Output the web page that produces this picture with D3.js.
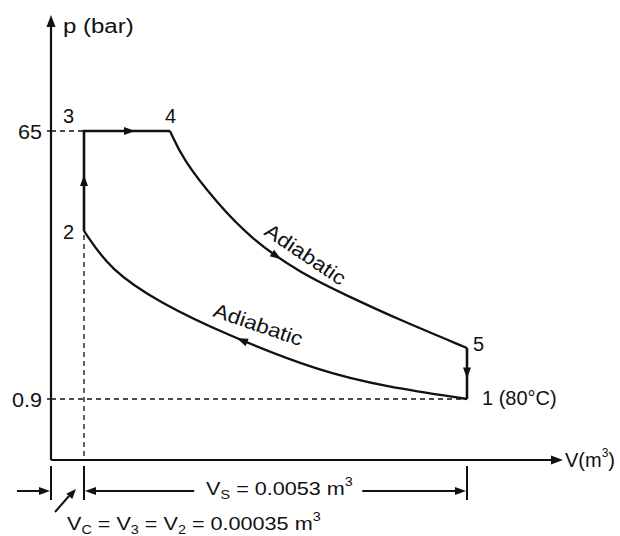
<!DOCTYPE html>
<html>
<head>
<meta charset="utf-8">
<script src="https://cdn.jsdelivr.net/npm/d3@7"></script>
<style>
  body { margin: 0; background: #fff; }
  text { font-family: "Liberation Sans", Arial, Helvetica, sans-serif; fill: #111; }
</style>
</head>
<body>
<div id="chart"></div>
<script>
// cycle data (V in m^3, p in bar)
const stateNames = ["1", "2", "3", "4", "5"];
const stateV = [0.00565, 0.00035, 0.00035, 0.00154, 0.00565];
const stateP = [0.9, 41.1, 65, 65, 13.1];

// adiabatic expansion 4 -> 5
const expansionV = [0.00154, 0.00172, 0.00219, 0.00265, 0.00334, 0.00403, 0.00472, 0.00565];
const expansionP = [65, 58.1, 47.8, 39.4, 31.0, 25.3, 19.8, 13.1];

// adiabatic compression 1 -> 2
const compressionV = [0.00565, 0.00454, 0.00362, 0.00233, 0.00140, 0.00071, 0.00035];
const compressionP = [0.9, 3.8, 7.4, 16.2, 23.9, 31.8, 41.1];

const pTicks = [65, 0.9];
const pTickLabels = ["65", "0.9"];

// layout
const width = 620, height = 536;
const originX = 51, originY = 460, axisTop = 15, axisRight = 563;

const svg = d3.select("#chart").append("svg")
  .attr("width", width)
  .attr("height", height);

const x = d3.scaleLinear().domain([stateV[1], stateV[0]]).range([84, 467]);
const y = d3.scaleLinear().domain([0.9, 65]).range([399, 131]);

const pts = stateNames.map((n, i) => ({name: n, V: stateV[i], p: stateP[i]}));
const S = {};
pts.forEach(d => { S[d.name] = d; });

// the lettering in the original is drawn a little wide
function widen(sel, k) {
  sel.each(function() {
    const w = this.getComputedTextLength();
    d3.select(this).attr("textLength", w * k).attr("lengthAdjust", "spacingAndGlyphs");
  });
  return sel;
}

function arrowHead(px, py, angle, len = 11, wid = 8) {
  svg.append("path")
    .attr("d", `M0,0 L${-len},${-wid / 2} L${-len},${wid / 2} Z`)
    .attr("transform", `translate(${px},${py}) rotate(${angle})`)
    .attr("fill", "#111");
}

// dashed guide lines
const dash = svg.append("g")
  .attr("stroke", "#111")
  .attr("stroke-width", 1.3)
  .attr("stroke-dasharray", "5,4")
  .attr("fill", "none");
dash.append("line")
  .attr("x1", originX).attr("x2", x(S["3"].V))
  .attr("y1", y(S["3"].p)).attr("y2", y(S["3"].p));
dash.append("line")
  .attr("x1", originX).attr("x2", x(S["1"].V))
  .attr("y1", y(S["1"].p)).attr("y2", y(S["1"].p));
dash.append("line")
  .attr("x1", x(S["2"].V)).attr("x2", x(S["2"].V))
  .attr("y1", y(S["2"].p) + 4).attr("y2", originY);

// axes
const axes = svg.append("g").attr("stroke", "#111").attr("stroke-width", 2.2);
axes.append("line").attr("x1", originX).attr("x2", originX).attr("y1", originY).attr("y2", axisTop + 6);
axes.append("line").attr("x1", originX).attr("x2", axisRight - 6).attr("y1", originY).attr("y2", originY);
arrowHead(originX, axisTop, -90, 12, 9);
arrowHead(axisRight, originY, 0, 12, 9);

// y ticks
pTicks.forEach((p, i) => {
  svg.append("line")
    .attr("x1", originX - 4).attr("x2", originX)
    .attr("y1", y(p)).attr("y2", y(p))
    .attr("stroke", "#111").attr("stroke-width", 1.5);
  widen(svg.append("text")
    .attr("x", originX - 9)
    .attr("y", y(p) + 8)
    .attr("text-anchor", "end")
    .attr("font-size", 20)
    .text(pTickLabels[i]), 1.08);
});

// axis titles
widen(svg.append("text")
  .attr("x", originX + 12).attr("y", 33)
  .attr("font-size", 20)
  .text("p (bar)"), 1.2);

const vt = svg.append("text")
  .attr("x", axisRight + 2).attr("y", originY + 7)
  .attr("font-size", 20);
vt.append("tspan").text("V(m");
vt.append("tspan").attr("font-size", 12).attr("dy", -10).text("3");
vt.append("tspan").attr("dy", 10).text(")");

// cycle
const line = d3.line().x(d => x(d[0])).y(d => y(d[1]));
const curved = d3.line().x(d => x(d[0])).y(d => y(d[1])).curve(d3.curveBasis);

const cyc = svg.append("g").attr("fill", "none").attr("stroke", "#111").attr("stroke-linejoin", "miter");

// 2 -> 3 -> 4
cyc.append("path")
  .attr("stroke-width", 2.6)
  .attr("d", line([[S["2"].V, S["2"].p], [S["3"].V, S["3"].p], [S["4"].V, S["4"].p]]));
// 5 -> 1
cyc.append("path")
  .attr("stroke-width", 2.6)
  .attr("d", line([[S["5"].V, S["5"].p], [S["1"].V, S["1"].p]]));

const expansion = cyc.append("path")
  .attr("stroke-width", 2.3)
  .attr("d", curved(expansionV.map((v, i) => [v, expansionP[i]])));
const compression = cyc.append("path")
  .attr("stroke-width", 2.3)
  .attr("d", curved(compressionV.map((v, i) => [v, compressionP[i]]).reverse()));

// arrowhead placed on a path at a given screen x
function arrowOnPath(node, atX, reverse) {
  const L = node.getTotalLength();
  let lo = 0, hi = L;
  for (let k = 0; k < 40; k++) {
    const mid = (lo + hi) / 2;
    if (node.getPointAtLength(mid).x < atX) lo = mid; else hi = mid;
  }
  const p = node.getPointAtLength(lo);
  const q = node.getPointAtLength(Math.min(L, lo + 2));
  let a = Math.atan2(q.y - p.y, q.x - p.x) * 180 / Math.PI;
  if (reverse) a += 180;
  arrowHead(p.x, p.y, a);
}
arrowOnPath(expansion.node(), 281, false);
arrowOnPath(compression.node(), 237, true);

// arrows on straight legs
arrowHead(x(S["2"].V), (y(S["2"].p) + y(S["3"].p)) / 2 - 6, -90);
arrowHead((x(S["3"].V) + x(S["4"].V)) / 2 + 8, y(S["3"].p), 0);
arrowHead(x(S["5"].V), (y(S["5"].p) + y(S["1"].p)) / 2 + 5, 90);

// state labels
const labelOffset = {
  "1": [15, 6, "1 (80\u00B0C)"],
  "2": [-21, 8, "2"],
  "3": [-21, -8, "3"],
  "4": [-5, -8, "4"],
  "5": [6, 3, "5"]
};
pts.forEach(d => {
  const o = labelOffset[d.name];
  svg.append("text")
    .attr("x", x(d.V) + o[0])
    .attr("y", y(d.p) + o[1])
    .attr("font-size", 20)
    .text(o[2]);
});

// process labels
widen(svg.append("text")
  .attr("transform", "translate(263,234) rotate(34)")
  .attr("font-size", 20)
  .text("Adiabatic"), 1.13);
widen(svg.append("text")
  .attr("transform", "translate(212,316) rotate(19)")
  .attr("font-size", 20)
  .text("Adiabatic"), 1.13);

// dimension lines below the axis
const dimY = 491;
const ext = svg.append("g").attr("stroke", "#111").attr("stroke-width", 2);
[originX, x(S["2"].V), x(S["1"].V)].forEach(px => {
  ext.append("line").attr("x1", px).attr("x2", px).attr("y1", originY + 6).attr("y2", 500);
});

// clearance volume arrow from the left
ext.append("line").attr("x1", 17).attr("x2", originX - 8).attr("y1", dimY).attr("y2", dimY);
arrowHead(originX - 1, dimY, 0, 11, 8);

// swept volume
const vs = svg.append("text")
  .attr("x", (x(S["2"].V) + x(S["1"].V)) / 2 + 4)
  .attr("y", dimY + 4)
  .attr("text-anchor", "middle")
  .attr("font-size", 18);
vs.append("tspan").text("V");
vs.append("tspan").attr("font-size", 12).attr("dy", 4).text("S");
vs.append("tspan").attr("dy", -4).text(" = 0.0053 m");
vs.append("tspan").attr("font-size", 12).attr("dy", -9).text("3");
widen(vs, 1.2);
const bb = vs.node().getBBox();
ext.append("line").attr("x1", x(S["2"].V) + 8).attr("x2", bb.x - 12).attr("y1", dimY).attr("y2", dimY);
ext.append("line").attr("x1", bb.x + bb.width + 9).attr("x2", x(S["1"].V) - 8).attr("y1", dimY).attr("y2", dimY);
arrowHead(x(S["2"].V) + 1, dimY, 180, 11, 8);
arrowHead(x(S["1"].V) - 1, dimY, 0, 11, 8);

// clearance volume note
ext.append("line").attr("x1", 55).attr("y1", 512).attr("x2", 69).attr("y2", 496);
arrowHead(76, 489, -48, 10, 8);

const vc = svg.append("text")
  .attr("x", 67).attr("y", 530)
  .attr("font-size", 18);
vc.append("tspan").text("V");
vc.append("tspan").attr("font-size", 12).attr("dy", 4).text("C");
vc.append("tspan").attr("dy", -4).text(" = V");
vc.append("tspan").attr("font-size", 12).attr("dy", 4).text("3");
vc.append("tspan").attr("dy", -4).text(" = V");
vc.append("tspan").attr("font-size", 12).attr("dy", 4).text("2");
vc.append("tspan").attr("dy", -4).text(" = 0.00035 m");
vc.append("tspan").attr("font-size", 12).attr("dy", -9).text("3");
widen(vc, 1.2);
</script>
</body>
</html>
